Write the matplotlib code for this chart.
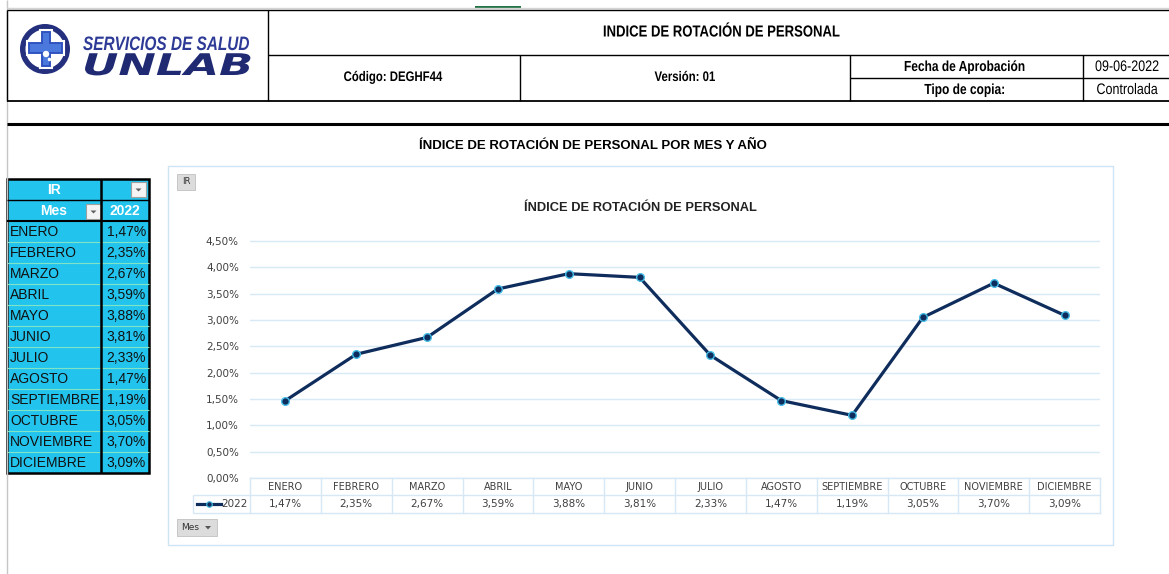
import matplotlib
matplotlib.use('Agg')
import matplotlib.pyplot as plt
from matplotlib import font_manager
from matplotlib.patches import Rectangle, Wedge, Polygon, Circle
from matplotlib.patheffects import AbstractPathEffect
from matplotlib.transforms import Affine2D

# ---- data -------------------------------------------------------------
meses = ['ENERO', 'FEBRERO', 'MARZO', 'ABRIL', 'MAYO', 'JUNIO', 'JULIO',
         'AGOSTO', 'SEPTIEMBRE', 'OCTUBRE', 'NOVIEMBRE', 'DICIEMBRE']
ir_2022 = [1.47, 2.35, 2.67, 3.59, 3.88, 3.81, 2.33, 1.47, 1.19, 3.05, 3.70, 3.09]
serie = '2022'
y_ticks = [0.0, 0.5, 1.0, 1.5, 2.0, 2.5, 3.0, 3.5, 4.0, 4.5]

titulo_hoja = 'INDICE DE ROTACIÓN DE PERSONAL'
codigo = 'Código: DEGHF44'
version = 'Versión: 01'
fecha_label, fecha = 'Fecha de Aprobación', '09-06-2022'
copia_label, copia = 'Tipo de copia:', 'Controlada'
subtitulo = 'ÍNDICE DE ROTACIÓN DE PERSONAL POR MES Y AÑO'
titulo_grafico = 'ÍNDICE DE ROTACIÓN DE PERSONAL'
logo_1, logo_2 = 'SERVICIOS DE SALUD', 'UNLAB'


def pct(v):
    return ('%.2f%%' % v).replace('.', ',')


W, H = 1169, 574
fig = plt.figure(figsize=(W / 100, H / 100), dpi=100)
base = fig.add_axes([0, 0, 1, 1])
base.set_xlim(0, W)
base.set_ylim(H, 0)
base.axis('off')

names = {f.name for f in font_manager.fontManager.ttflist}
if 'Liberation Sans Narrow' in names:
    NARROW, NSX = 'Liberation Sans Narrow', 1.0
else:
    NARROW, NSX = 'Liberation Sans', 0.82


class Stretch(AbstractPathEffect):
    # squeeze / widen glyphs horizontally around the text anchor
    def __init__(self, sx, x, y):
        super().__init__()
        self.sx, self.x, self.y = sx, x, y

    def draw_path(self, renderer, gc, tpath, affine, rgbFace=None):
        x0 = base.transData.transform((self.x, self.y))[0]
        t = affine + Affine2D().translate(-x0, 0).scale(self.sx, 1).translate(x0, 0)
        renderer.draw_path(gc, tpath, t, rgbFace)


def txt(x, y, s, size, weight='normal', family='Liberation Sans', color='black',
        ha='center', va='center', sx=1.0, style='normal'):
    t = base.text(x, y, s, fontsize=size, fontweight=weight, family=family,
                  color=color, ha=ha, va=va, style=style)
    if sx != 1.0:
        t.set_path_effects([Stretch(sx, x, y)])
    return t


def line(x0, y0, x1, y1, color='black', lw=1.0):
    base.plot([x0, x1], [y0, y1], color=color, lw=lw, solid_capstyle='butt')


# ---- sheet frame ------------------------------------------------------
line(7, 0, 7, H, color='#c6c6c6', lw=1)
line(7, 8, W, 8, color='#d4d4d4', lw=1)
base.add_patch(Rectangle((475, 5.5), 46, 2.5, color='#217346', lw=0))

# header block
line(7, 10, W, 10)
line(7, 10, 7, 101)
line(268, 10, 268, 101)
line(268, 55, W, 55)
line(520, 55, 520, 101)
line(850, 55, 850, 101)
line(1083, 55, 1083, 101)
line(850, 78, W, 78)
line(7, 101, W, 101, lw=1.3)
line(7, 124, W, 124, lw=2.2)

txt(722, 32, titulo_hoja, 11.5, 'bold', NARROW, sx=NSX)
txt(393, 77, codigo, 10, 'bold', NARROW, sx=NSX)
txt(685, 77, version, 10, 'bold', NARROW, sx=NSX)
txt(965, 67, fecha_label, 10.5, 'bold', NARROW, sx=NSX)
txt(965, 90, copia_label, 10.5, 'bold', NARROW, sx=NSX)
txt(1127, 67, fecha, 11, 'normal', NARROW, sx=NSX)
txt(1127, 90, copia, 11, 'normal', NARROW, sx=NSX)

# logo
base.add_patch(Wedge((45, 49), 25, 0, 360, width=5.5, color='#24307e', lw=0))
cross = [(40, 30), (52, 30), (52, 41), (64, 41), (64, 55), (52, 55), (52, 68),
         (40, 68), (40, 55), (27, 55), (27, 41), (40, 41)]
base.add_patch(Polygon(cross, closed=True, fc='#2f52bf', ec='white', lw=1.5))
base.add_patch(Polygon([(43, 33), (49, 33), (49, 44), (61, 44), (61, 52), (49, 52),
                        (49, 65), (43, 65), (43, 52), (30, 52), (30, 44), (43, 44)],
                       closed=True, fc='#4a78dc', lw=0))
base.add_patch(Circle((46, 54), 3.2, color='white', lw=0))
base.add_patch(Circle((49.5, 59.5), 1.8, color='white', lw=0))
txt(83, 50, logo_1, 14, 'bold', 'Liberation Sans', '#2d3a96', ha='left',
    va='baseline', sx=0.79, style='italic')
txt(82, 75, logo_2, 21.5, 'bold', 'DejaVu Sans', '#1f2a72', ha='left',
    va='baseline', sx=1.5, style='oblique')

txt(593, 146, subtitulo, 9.5, 'bold')

# ---- left pivot table -------------------------------------------------
cyan = '#22c4ee'
tx0, tx1, tx2 = 7, 101, 149
ty0, ty1, ty2 = 179, 200, 221
rh = 21
ty3 = ty2 + rh * len(meses)
base.add_patch(Rectangle((tx0, ty0), tx2 - tx0, ty3 - ty0, fc=cyan, lw=0))
for i in range(1, len(meses)):
    line(tx0, ty2 + rh * i, tx2, ty2 + rh * i, color='#7fe3c6', lw=0.8)
line(tx0, ty1, tx2, ty1, lw=1)
line(tx0, ty2, tx2, ty2, lw=1.5)
line(tx1, ty0, tx1, ty3, lw=1.8)
base.add_patch(Rectangle((tx0, ty0), tx2 - tx0, ty3 - ty0, fill=False,
                         ec='black', lw=1.8))
txt(54, 190, 'IR', 10, 'bold', color='white')
txt(54, 211, 'Mes', 10, 'bold', color='white')
txt(125, 211, serie, 10, 'bold', color='white')
for bx, by in [(131, 182), (86, 204)]:
    base.add_patch(Rectangle((bx, by), 15, 15, fc='#f4f4f4', ec='#a0a0a0', lw=0.8))
    base.add_patch(Polygon([(bx + 4.5, by + 6.5), (bx + 10.5, by + 6.5), (bx + 7.5, by + 9.5)],
                           closed=True, color='#606060', lw=0))
for i, (m, v) in enumerate(zip(meses, ir_2022)):
    yc = ty2 + rh * i + rh / 2 + 0.5
    txt(10, yc, m, 10, ha='left', color='#111111')
    txt(146, yc, pct(v), 10, ha='right', color='#111111')

# ---- chart frame ------------------------------------------------------
base.add_patch(Rectangle((168, 166), 945, 379, fill=False, ec='#cfe5f5', lw=1))
base.add_patch(Rectangle((177, 174), 18, 16, fc='#dcdcdc', ec='#c0c0c0', lw=0.6))
txt(186, 182, 'IR', 6, family='DejaVu Sans', color='#333333')
base.add_patch(Rectangle((177, 519), 40, 17, fc='#dcdcdc', ec='#c0c0c0', lw=0.6))
txt(181, 527.5, 'Mes', 6.5, family='DejaVu Sans', color='#333333', ha='left')
base.add_patch(Polygon([(205, 526), (211, 526), (208, 529.5)], closed=True,
                       color='#555555', lw=0))
txt(640, 208, titulo_grafico, 9.3, 'bold', color='#222222')

# ---- line chart -------------------------------------------------------
y0pix, px_per_unit = 478, 26.33 / 0.5
ymax = 4.6
ax_l, ax_r = 250, 1100
ax_h = ymax * px_per_unit
ax = fig.add_axes([ax_l / W, (H - y0pix) / H, (ax_r - ax_l) / W, ax_h / H])
ax.set_facecolor('none')
x = list(range(len(meses)))
ax.plot(x, ir_2022, color='#0f2d5c', lw=2.3, marker='o', ms=5.5,
        mfc='#0f2d5c', mec='#45bde6', mew=1.0, zorder=3, clip_on=False)
ax.set_xlim(-0.5, len(meses) - 0.5)
ax.set_ylim(0, ymax)
ax.set_yticks(y_ticks)
ax.set_yticklabels([pct(v) for v in y_ticks])
ax.set_xticks([])
ax.grid(axis='y', color='#d9eaf7', lw=1)
ax.tick_params(axis='y', length=0, pad=8, labelsize=7.5, labelcolor='#404040')
for lab in ax.get_yticklabels():
    lab.set_family('DejaVu Sans')
for s in ax.spines.values():
    s.set_visible(False)


# data table under the plot (x from the axis scale, y in pixels)
def yf(ypix):
    return (y0pix - ypix) / ax_h


tcol = '#d6e8f6'
xt = ax.get_xaxis_transform()
for yp in [478, 495, 513]:
    ax.plot([-0.5, len(meses) - 0.5], [yf(yp)] * 2, transform=xt, color=tcol,
            lw=1, clip_on=False)
for i in range(len(meses) + 1):
    ax.plot([i - 0.5] * 2, [yf(478), yf(513)], transform=xt, color=tcol,
            lw=1, clip_on=False)
for i, (m, v) in enumerate(zip(meses, ir_2022)):
    ax.text(i, yf(486.5), m, transform=xt, ha='center', va='center',
            fontsize=7, family='DejaVu Sans', color='#404040')
    ax.text(i, yf(504), pct(v), transform=xt, ha='center', va='center',
            fontsize=7.5, family='DejaVu Sans', color='#404040')

line(193, 495, 250, 495, color=tcol)
line(193, 513, 250, 513, color=tcol)
line(193, 495, 193, 513, color=tcol)
base.plot([197, 221], [504, 504], color='#0f2d5c', lw=2.3)
base.plot([209], [504], marker='o', ms=4, mfc='#0f2d5c', mec='#45bde6', mew=0.8)
txt(248, 504, serie, 7.5, family='DejaVu Sans', color='#404040', ha='right')

fig.savefig('out.png', dpi=100)
